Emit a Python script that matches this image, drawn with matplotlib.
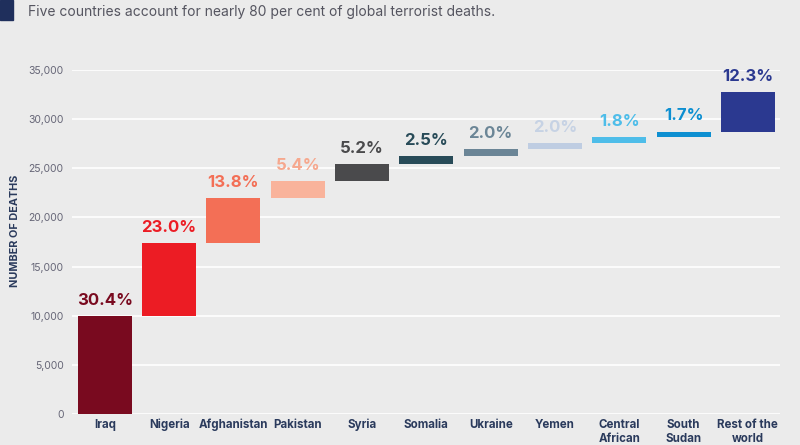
import matplotlib
matplotlib.use("Agg")
import matplotlib.pyplot as plt
import numpy as np
from matplotlib.patches import Rectangle

countries = ["Iraq", "Nigeria", "Afghanistan", "Pakistan", "Syria", "Somalia",
             "Ukraine", "Yemen", "Central\nAfrican", "South\nSudan", "Rest of the\nworld"]
deaths = [9950, 7450, 4580, 1720, 1730, 820, 710, 610, 570, 580, 4010]
pct_labels = ["30.4%", "23.0%", "13.8%", "5.4%", "5.2%", "2.5%", "2.0%", "2.0%", "1.8%", "1.7%", "12.3%"]
yticks = [0, 5000, 10000, 15000, 20000, 25000, 30000, 35000]
ytick_labels = ["0", "5,000", "10,000", "15,000", "20,000", "25,000", "30,000", "35,000"]

bar_colors = ["#790a1f", "#ec1c24", "#f36f56", "#f9b39b", "#4a4a4c", "#284b58",
              "#6b8596", "#bfcde2", "#4ebde9", "#0d8fd1", "#2b3990"]
label_colors = ["#790a1f", "#ec1c24", "#f36f56", "#f6a88e", "#4a4a4c", "#284b58",
                "#6b8596", "#c6d2e4", "#4ebde9", "#0d8fd1", "#2b3990"]

plt.rcParams['font.family'] = ['Inter', 'DejaVu Sans']
bg = "#ebebeb"
fig = plt.figure(figsize=(8, 4.45), dpi=100, facecolor=bg)
ax = fig.add_axes([72/800, 1-414/445, (780-72)/800, (414-70)/445], facecolor=bg)

x = np.arange(len(countries))
bottoms = np.concatenate([[0], np.cumsum(deaths)[:-1]])
ax.bar(x, deaths, bottom=bottoms, width=0.84, color=bar_colors, zorder=3)
for xi, b, d, lab, c in zip(x, bottoms, deaths, pct_labels, label_colors):
    ax.annotate(lab, (xi, b + d), xytext=(0, 6), textcoords="offset points",
                ha="center", va="bottom", fontsize=12, fontweight="bold", color=c)

ax.set_xlim(-0.51, 10.5)
ax.set_ylim(0, 35000)
ax.set_yticks(yticks)
ax.set_yticklabels(ytick_labels, fontsize=7.5, color="#666677")
ax.set_xticks(x)
ax.set_xticklabels([])
for xi, name in zip(x, countries):
    for i, line in enumerate(name.split("\n")):
        ax.annotate(line, (xi, 0), xycoords=("data", "axes fraction"),
                    xytext=(0, -10.0 - i * 10.1), textcoords="offset points",
                    ha="center", va="baseline", fontsize=8.3, fontweight="bold",
                    color="#2a3a5c", annotation_clip=False)
ax.tick_params(axis="both", length=0)
ax.tick_params(axis="y", pad=6)
ax.grid(axis="y", color="white", linewidth=1.2, zorder=0)
for s in ax.spines.values():
    s.set_visible(False)
ax.set_ylabel("NUMBER OF DEATHS", fontsize=7.8, fontweight="bold", color="#2a3a5c")
ax.yaxis.set_label_coords((20 - 72) / 708, (414 - 231) / 344)

fig.patches.append(Rectangle((0, 1-20/445), 13/800, 20/445, transform=fig.transFigure,
                             color="#1f2f5c", zorder=5))
fig.text(28/800, 1-12/445, "Five countries account for nearly 80 per cent of global terrorist deaths.",
         fontsize=10, color="#555560", va="center", ha="left")

fig.savefig("out.png", dpi=100, facecolor=bg)
